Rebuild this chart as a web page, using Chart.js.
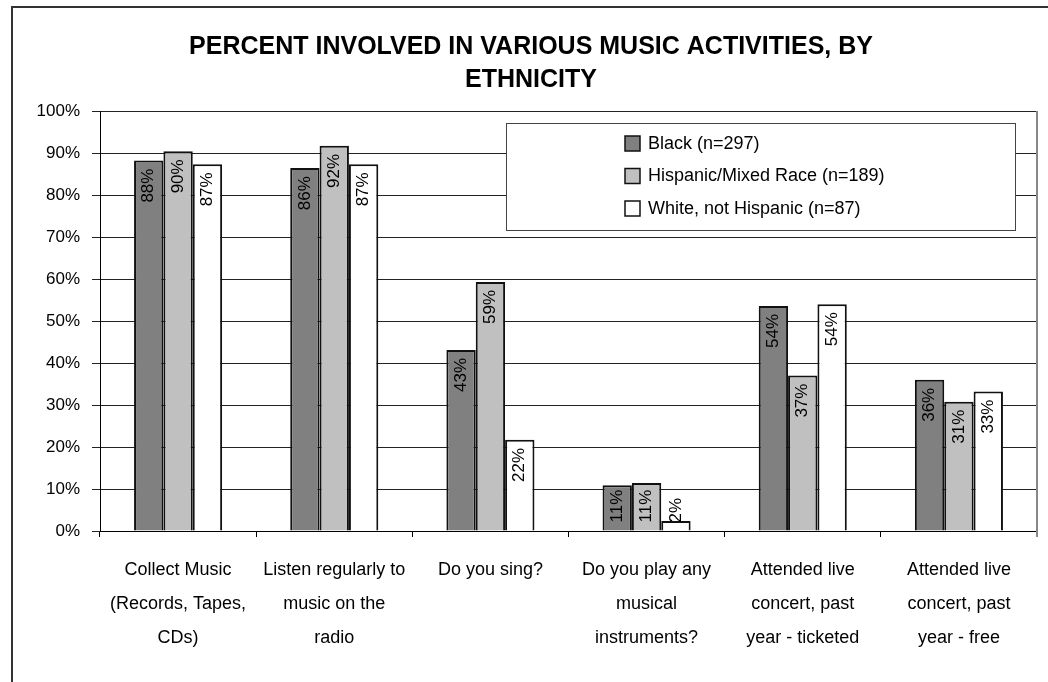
<!DOCTYPE html>
<html>
<head>
<meta charset="utf-8">
<script src="https://cdn.jsdelivr.net/npm/chart.js@4.4.1/dist/chart.umd.min.js"></script>
<style>
    html, body { margin: 0; padding: 0; background: #fff; overflow: hidden; }
    #frame {
        position: absolute; left: 11px; top: 6px; width: 2000px; height: 2000px;
        border-left: 2px solid #333; border-top: 2px solid #333;
    }
    #chart { position: absolute; left: 0; top: 0; }
</style>
</head>
<body>
<div id="frame"></div>
<canvas id="chart" width="1048" height="682"></canvas>
<script>
const categories = [
    ['Collect Music', '(Records, Tapes,', 'CDs)'],
    ['Listen regularly to', 'music on the', 'radio'],
    ['Do you sing?'],
    ['Do you play any', 'musical', 'instruments?'],
    ['Attended live', 'concert, past', 'year - ticketed'],
    ['Attended live', 'concert, past', 'year - free']
];

// bar heights, printed labels are the rounded values
const blackValues = [88.2, 86.4, 43.1, 10.9, 53.6, 36.0];
const hispanicValues = [90.4, 91.7, 59.3, 11.4, 37.0, 30.8];
const whiteValues = [87.3, 87.3, 21.7, 2.4, 54.0, 33.2];

const seriesNames = ['Black (n=297)', 'Hispanic/Mixed Race (n=189)', 'White, not Hispanic (n=87)'];
const seriesColors = ['#808080', '#c0c0c0', '#ffffff'];

const yTicks = [0, 10, 20, 30, 40, 50, 60, 70, 80, 90, 100];

const FONT = "'Liberation Sans', Arial, sans-serif";

// value labels, rotated, sitting inside the top of each bar
const barLabels = {
    id: 'barLabels',
    afterDatasetsDraw(chart) {
        const ctx = chart.ctx;
        ctx.save();
        ctx.font = '17px ' + FONT;
        ctx.fillStyle = '#000';
        ctx.textAlign = 'right';
        ctx.textBaseline = 'middle';
        chart.data.datasets.forEach((ds, i) => {
            const meta = chart.getDatasetMeta(i);
            meta.data.forEach((bar, j) => {
                const text = Math.round(ds.data[j]) + '%';
                const w = ctx.measureText(text).width;
                const top = Math.min(bar.y + 8, bar.base - 8 - w);
                ctx.save();
                ctx.translate(bar.x, top);
                ctx.rotate(-Math.PI / 2);
                ctx.fillText(text, 0, 0);
                ctx.restore();
            });
        });
        ctx.restore();
    }
};

// gray right edge of the plot area
const plotEdge = {
    id: 'plotEdge',
    beforeDatasetsDraw(chart) {
        const { ctx, chartArea } = chart;
        ctx.save();
        ctx.strokeStyle = '#888';
        ctx.lineWidth = 2;
        ctx.beginPath();
        ctx.moveTo(chartArea.right, chartArea.top);
        ctx.lineTo(chartArea.right, chartArea.bottom + 6);
        ctx.stroke();
        ctx.restore();
    }
};

// boxed legend inside the plot, top right
const boxLegend = {
    id: 'boxLegend',
    afterDraw(chart) {
        const { ctx, chartArea } = chart;
        const left = chartArea.left + 406;
        const top = chartArea.top + 12;
        const width = chartArea.right - 22 - left;
        const height = 107;
        ctx.save();
        ctx.fillStyle = '#fff';
        ctx.fillRect(left, top, width, height);
        ctx.strokeStyle = '#444';
        ctx.lineWidth = 1;
        ctx.strokeRect(left + 0.5, top + 0.5, width, height);

        ctx.font = '18px ' + FONT;
        ctx.textAlign = 'left';
        ctx.textBaseline = 'middle';
        chart.data.datasets.forEach((ds, i) => {
            const cy = top + 20 + i * 32.5;
            ctx.fillStyle = ds.backgroundColor;
            ctx.fillRect(left + 119, cy - 7, 15, 15);
            ctx.strokeStyle = '#111';
            ctx.lineWidth = 1.5;
            ctx.strokeRect(left + 119, cy - 7, 15, 15);
            ctx.fillStyle = '#000';
            ctx.fillText(ds.label, left + 142, cy + 1);
        });
        ctx.restore();
    }
};

const chart = new Chart(document.getElementById('chart'), {
    type: 'bar',
    data: {
        labels: categories,
        datasets: [blackValues, hispanicValues, whiteValues].map((vals, i) => ({
            label: seriesNames[i],
            data: vals,
            backgroundColor: seriesColors[i],
            borderColor: '#111',
            borderWidth: 2,
            categoryPercentage: 0.564,
            barPercentage: 1.0
        }))
    },
    options: {
        responsive: false,
        animation: false,
        devicePixelRatio: 1,
        layout: { padding: { left: 25, right: 11, top: 0, bottom: 0 } },
        plugins: {
            legend: { display: false },
            tooltip: { enabled: false },
            title: {
                display: true,
                text: ['PERCENT INVOLVED IN VARIOUS MUSIC ACTIVITIES, BY', 'ETHNICITY'],
                color: '#000',
                font: { family: FONT, size: 25, weight: 'bold', lineHeight: 33 / 25 },
                padding: { top: 30.5, bottom: 14.5 }
            }
        },
        scales: {
            x: {
                grid: {
                    drawOnChartArea: false,
                    drawTicks: true,
                    tickLength: 6,
                    color: '#000',
                    offset: true
                },
                border: { display: true, color: '#000', width: 1 },
                ticks: {
                    color: '#000',
                    padding: 16,
                    maxRotation: 0,
                    autoSkip: false,
                    font: { family: FONT, size: 18, lineHeight: 34 / 18 }
                },
                afterFit: scale => { scale.height = 151; }
            },
            y: {
                min: 0,
                max: 100,
                afterBuildTicks: scale => { scale.ticks = yTicks.map(v => ({ value: v })); },
                grid: {
                    color: '#222',
                    lineWidth: 1,
                    drawTicks: true,
                    tickLength: 8
                },
                border: { display: true, color: '#000', width: 1 },
                ticks: {
                    color: '#000',
                    padding: 12,
                    font: { family: FONT, size: 17 },
                    callback: v => v + '%'
                },
                afterFit: scale => { scale.width = 75; }
            }
        }
    },
    plugins: [plotEdge, barLabels, boxLegend]
});
</script>
</body>
</html>
